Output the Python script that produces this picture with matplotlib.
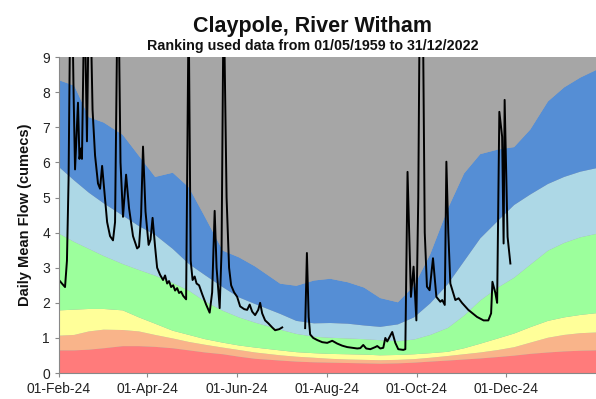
import numpy as np
import pandas as pd
import matplotlib
matplotlib.use("Agg")
import matplotlib.pyplot as plt
import matplotlib.dates as mdates

plt.rcParams['font.family'] = ['Liberation Sans', 'DejaVu Sans']

START = pd.Timestamp("2024-02-01")

# Percentile band boundaries (cumecs), sampled at day offsets from 1 Feb 2024
band_days = [0, 10, 20, 30, 43, 54, 65, 77, 88, 99, 111, 122, 133, 150, 161, 173,
             184, 196, 207, 218, 230, 241, 252, 264, 275, 286, 298, 309, 320, 332,
             343, 354, 365]
red_top = [0.66, 0.66, 0.68, 0.72, 0.78, 0.78, 0.76, 0.72, 0.66, 0.60, 0.55, 0.48,
           0.42, 0.37, 0.34, 0.32, 0.31, 0.30, 0.29, 0.28, 0.29, 0.31, 0.34, 0.37,
           0.40, 0.43, 0.47, 0.51, 0.56, 0.60, 0.63, 0.65, 0.66]
salmon_top = [1.08, 1.10, 1.20, 1.25, 1.24, 1.20, 1.10, 1.00, 0.90, 0.82, 0.74, 0.67,
              0.60, 0.52, 0.48, 0.45, 0.42, 0.40, 0.39, 0.38, 0.39, 0.41, 0.45, 0.50,
              0.55, 0.60, 0.67, 0.75, 0.88, 1.02, 1.10, 1.15, 1.17]
yellow_top = [1.80, 1.82, 1.84, 1.84, 1.80, 1.60, 1.42, 1.22, 1.10, 0.98, 0.88, 0.80,
              0.74, 0.66, 0.61, 0.58, 0.56, 0.55, 0.54, 0.52, 0.53, 0.55, 0.58, 0.62,
              0.72, 0.85, 1.00, 1.14, 1.32, 1.50, 1.60, 1.67, 1.72]
green_top = [3.98, 3.75, 3.55, 3.35, 3.12, 2.95, 2.79, 2.58, 2.36, 2.05, 1.79, 1.60,
             1.45, 1.25, 1.13, 1.05, 1.02, 1.00, 0.98, 0.95, 0.92, 0.97, 1.10, 1.30,
             1.65, 2.08, 2.45, 2.73, 3.10, 3.50, 3.72, 3.88, 3.98]
lightblue_top = [5.87, 5.50, 5.15, 4.85, 4.50, 4.20, 3.95, 3.55, 3.12, 2.80, 2.46, 2.17,
                 1.98, 1.70, 1.50, 1.43, 1.44, 1.42, 1.37, 1.33, 1.40, 1.60, 2.00, 2.55,
                 3.20, 3.85, 4.35, 4.80, 5.10, 5.40, 5.60, 5.75, 5.85]
darkblue_top = [8.35, 8.20, 7.30, 7.15, 6.80, 6.20, 5.60, 5.72, 5.30, 4.45, 3.50, 3.31,
                3.05, 2.56, 2.50, 2.65, 2.70, 2.60, 2.45, 2.15, 2.03, 2.50, 3.40, 4.70,
                5.70, 6.25, 6.38, 6.45, 6.95, 7.75, 8.15, 8.43, 8.65]

# Daily mean flow 2024 (cumecs); NaN marks missing record
flow_days = [0, 2.0, 4.1, 5.4, 6.5, 8.2, 9.9, 10.9, 12.9, 13.9, 15.0, 15.6, 17.3, 19.0,
             20.7, 22.8, 24.5, 26.5, 27.9, 29.3, 30.6, 32.7, 34.7, 36.7, 38.1, 40.1,
             41.8, 43.5, 45.6, 47.6, 50.3, 53.1, 54.4, 55.8, 57.1, 58.8, 60.9, 62.2,
             63.6, 65.3, 66.7, 68.7, 70.7, 72.1, 73.5, 74.8, 76.2, 77.6, 78.9, 80.3,
             81.6, 83.0, 84.4, 86.4, 88.1, 89.5, 90.8, 92.2, 93.5, 95.2, 97.3, 100.0,
             102.4, 104.1, 105.8, 107.1, 109.2, 110.5, 111.9, 113.9, 115.6, 117.0,
             119.0, 121.1, 123.1, 125.9, 127.9, 129.6, 131.3, 133.3, 135.4, 136.7,
             138.1, 140.1, 142.2, 144.9, 146.9, 149.7, 151.7, 160.0,
             167.3, 168.5, 169.7, 170.7, 172.8, 175.5, 178.9, 182.3, 185.7, 189.1,
             192.5, 195.9, 199.3, 202.7, 204.8, 206.8, 208.8, 211.6, 215.0, 216.3,
             218.4, 220.4, 221.8, 223.1, 226.5, 228.6, 230.6, 234.0, 235.4, 236.9,
             239.2, 241.0, 242.9, 244.2, 245.6, 247.6, 248.6, 250.1, 251.9, 254.2,
             256.5, 259.2, 260.5, 262.2, 263.3, 264.6, 266.0, 269.4, 271.6, 273.9,
             278.2, 284.1, 288.6, 291.8, 293.7, 294.6, 296.6, 297.8, 299.3, 301.2,
             302.2, 302.9, 304.9, 306.8]
flow = [2.65, 2.55, 2.45, 3.2, 5.5, 13.0, 8.0, 5.8, 7.7, 6.1, 6.4, 6.1, 11.0, 6.6,
        12.0, 7.5, 6.2, 5.4, 5.25, 5.9, 5.3, 4.3, 3.9, 3.78, 4.3, 12.0,
        6.0, 4.45, 5.65, 4.7, 3.9, 3.55, 3.6, 4.5, 6.45, 4.6, 3.65, 3.8,
        4.42, 3.6, 3.0, 2.8, 2.65, 2.78, 2.55, 2.62, 2.45, 2.5, 2.35, 2.42,
        2.28, 2.32, 2.2, 2.1, 10.5, 3.2, 2.65, 2.75, 2.55, 2.5, 2.25, 1.95,
        1.72, 2.3, 4.62, 3.0, 1.85, 3.5, 11.0, 5.0, 3.0, 2.5,
        2.3, 2.17, 1.9, 1.82, 1.8, 1.95, 1.75, 1.65, 1.8, 2.0,
        1.7, 1.5, 1.42, 1.3, 1.22, 1.25, 1.3, np.nan,
        1.28, 3.42, 1.6, 1.1, 1.0, 0.94, 0.88, 0.86, 0.92, 0.84,
        0.78, 0.74, 0.72, 0.70, 0.71, 0.8, 0.7, 0.68, 0.74, 0.77,
        0.7, 0.72, 1.0, 0.9, 1.17, 0.86, 0.68, 0.66, 0.68, 5.73,
        2.17, 3.03, 1.5, 5.0, 13.0, 9.0, 4.0, 2.46, 2.36, 3.27,
        2.17, 2.03, 2.08, 1.94, 6.02, 4.0, 2.55, 2.08, 2.13, 2.0,
        1.8, 1.6, 1.5, 1.5, 1.7, 2.6, 2.28, 2.0, 7.44, 6.73,
        3.69, 7.78, 3.88, 3.12]

tick_months = ["2024-02-01", "2024-04-01", "2024-06-01", "2024-08-01",
               "2024-10-01", "2024-12-01"]

band_colors = ["#FF7B7B", "#F9B48A", "#FFFF99", "#9CFF9C", "#ADD8E6", "#558ED5"]
gray = "#A6A6A6"

bx = START + pd.to_timedelta(band_days, unit="D")
fx = START + pd.to_timedelta(flow_days, unit="D")

fig = plt.figure(figsize=(5.96, 3.99), dpi=100)
ax = fig.add_axes([0.099, 0.065, 0.901, 0.792])
ax.set_facecolor(gray)

lower = np.zeros(len(band_days))
for top, col in zip([red_top, salmon_top, yellow_top, green_top, lightblue_top,
                     darkblue_top], band_colors):
    ax.fill_between(bx, lower, top, color=col, linewidth=0)
    lower = np.asarray(top)
ax.fill_between(bx, lower, 9, color=gray, linewidth=0)

ax.plot(fx, flow, color="black", linewidth=1.4, solid_joinstyle="round")

ax.set_ylim(0, 9)
ax.set_xlim(START, pd.Timestamp("2025-01-31"))
ax.set_yticks(range(0, 10))
ax.set_xticks(pd.to_datetime(tick_months))
ax.xaxis.set_major_formatter(mdates.DateFormatter("%d-%b-%y"))

for s in ["top", "right"]:
    ax.spines[s].set_visible(False)
for s in ["left", "bottom"]:
    ax.spines[s].set_color("#888888")
    ax.spines[s].set_linewidth(0.8)
ax.tick_params(axis="both", colors="#888888", labelcolor="#222222",
               labelsize=10, length=3, width=0.8)

ax.set_ylabel("Daily Mean Flow (cumecs)", fontsize=10.5, fontweight="bold",
              color="#111111", labelpad=7)

fig.text(0.525, 0.921, "Claypole, River Witham", ha="center", va="baseline",
         fontsize=15.5, fontweight="bold", color="#111111")
fig.text(0.525, 0.874, "Ranking used data from 01/05/1959 to 31/12/2022",
         ha="center", va="baseline", fontsize=10.3, fontweight="bold",
         color="#111111")

fig.savefig("out.png", dpi=100)
